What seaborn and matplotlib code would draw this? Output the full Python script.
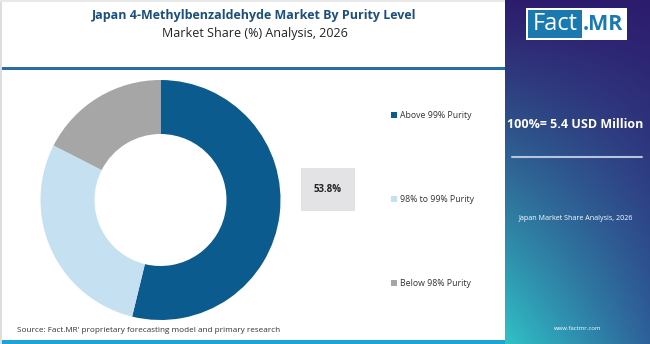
import matplotlib
matplotlib.use("Agg")
import matplotlib.pyplot as plt
from matplotlib.patches import Rectangle
import numpy as np
import seaborn as sns

# data
segments = ["Above 99% Purity", "98% to 99% Purity", "Below 98% Purity"]
shares = [53.8, 28.7, 17.5]
colors = ["#0b5b8f", "#c5e0f0", "#a6a6a6"]
title = "Japan 4-Methylbenzaldehyde Market By Purity Level"
subtitle = "Market Share (%) Analysis, 2026"
total_text = "100%= 5.4 USD Million"
side_text = "Japan Market Share Analysis, 2026"
source_text = "Source: Fact.MR' proprietary forecasting model and primary research"

sns.set_style("white")
plt.rcParams['font.family'] = ['Open Sans', 'DejaVu Sans']

W, H = 650, 344
fig = plt.figure(figsize=(W / 100, H / 100), dpi=100)
fig.patch.set_facecolor("white")

# right gradient panel (drawn first, underneath)
px0 = 505
pan = fig.add_axes([px0 / W, 0, (W - px0) / W, 1])
yy, xx = np.mgrid[0:1:200j, 0:1:100j]
top = np.array([0.18, 0.11, 0.43])
botl = np.array([0.19, 0.76, 0.78])
botr = np.array([0.18, 0.38, 0.60])
t = (yy ** 1.1)[..., None]
bottom = botl * (1 - xx[..., None]) + botr * xx[..., None]
grad = top * (1 - t) + bottom * t
pan.imshow(grad, aspect="auto", extent=[0, 1, 1, 0])
pan.set_xlim(0, 1)
pan.set_ylim(1, 0)
pan.axis("off")

# overlay canvas in pixel coords
bg = fig.add_axes([0, 0, 1, 1])
bg.set_xlim(0, W)
bg.set_ylim(H, 0)
bg.axis("off")

# lines / borders
bg.add_patch(Rectangle((0, 67), px0, 3, color="#2a6ea8", lw=0))
bg.add_patch(Rectangle((0, 340), px0, 4, color="#1fa3d0", lw=0))
bg.add_patch(Rectangle((0, 0), 2, H, color="#dddddd", lw=0))
bg.add_patch(Rectangle((0, 0), px0, 2, color="#e8e8e8", lw=0))

# titles
bg.text(254, 16, title, ha="center", va="center", fontsize=9,
        fontweight="bold", color="#1d4f7c")
bg.text(255, 33, subtitle, ha="center", va="center", fontsize=9, color="#222222")
bg.text(17, 331, source_text, ha="left", va="center", fontsize=5.9, color="#333333")

# logo
bg.add_patch(Rectangle((526, 8), 101, 32, facecolor="white", lw=0, zorder=3))
bg.add_patch(Rectangle((528, 10), 54, 28, facecolor="#1a7ab0", lw=0, zorder=4))
bg.text(555, 24, "Fact", ha="center", va="center", fontsize=17, color="white", zorder=5)
bg.text(603, 24, ".MR", ha="center", va="center", fontsize=15.5, fontweight="bold",
        color="#1a7ab0", zorder=5)

bg.text(575, 125, total_text, ha="center", va="center", fontsize=9,
        fontweight="bold", color="white", zorder=5)
bg.plot([512, 642], [157, 157], color="#b8c4dc", lw=1.5, zorder=5)
bg.text(576, 218, side_text, ha="center", va="center", fontsize=5.1, color="white", zorder=5)
bg.text(578, 328, "www.factmr.com", ha="center", va="center", fontsize=4.3,
        color="white", zorder=5)

# donut
cx, cy, r = 160.5, 200, 120
ax = fig.add_axes([(cx - r) / W, (H - cy - r) / H, 2 * r / W, 2 * r / H])
ax.pie(shares, colors=colors, startangle=90, counterclock=False,
       wedgeprops=dict(width=0.45, linewidth=0))
ax.set_aspect("equal")
ax.set_xlim(-1, 1)
ax.set_ylim(-1, 1)
ax.axis("off")

# value box
bg.add_patch(Rectangle((301, 168), 54, 43, facecolor="#e3e3e6", lw=0))
bg.text(328, 190, f"{shares[0]}%", ha="center", va="center", fontsize=7,
        fontweight="bold", color="#222222")

# legend
for i, (lab, col) in enumerate(zip(segments, colors)):
    y = 115 + i * 84
    bg.add_patch(Rectangle((391, y - 3), 6, 6, color=col, lw=0))
    bg.text(400, y, lab, ha="left", va="center", fontsize=6.3, color="#333333")

fig.savefig("out.png", dpi=100)
